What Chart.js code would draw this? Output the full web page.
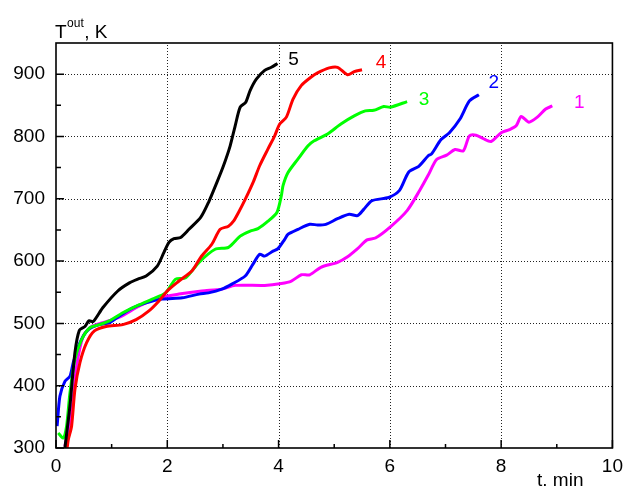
<!DOCTYPE html>
<html>
<head>
<meta charset="utf-8">
<script src="https://cdn.jsdelivr.net/npm/chart.js@4.4.1/dist/chart.umd.min.js"></script>
<style>
  html, body { margin: 0; padding: 0; background: #fff; }
  #wrap { width: 630px; height: 486px; }
</style>
</head>
<body>
<div id="wrap"><canvas id="tempChart"></canvas></div>
<script>
// outlet temperature vs time (t in min, T in K)
const time1 = [0.16, 0.28, 0.37, 0.49, 0.64, 0.84, 1.14, 1.50, 1.85, 2.21, 2.62, 2.98, 3.22, 3.75, 4.05, 4.23, 4.41, 4.56, 4.76, 5.06, 5.24, 5.42, 5.59, 5.74, 6.01, 6.31, 6.54, 6.69, 6.84, 7.02, 7.17, 7.32, 7.43, 7.55, 7.67, 7.82, 8.00, 8.15, 8.27, 8.36, 8.50, 8.65, 8.80, 8.92];
const temp1 = [303, 356, 431, 480, 495, 501, 510, 528, 541, 547, 552, 555, 561, 561, 564, 568, 578, 578, 590, 598, 607, 620, 634, 637, 655, 681, 714, 738, 763, 770, 779, 777, 801, 802, 797, 792, 806, 811, 817, 832, 823, 831, 844, 849];

const time2 = [0.02, 0.07, 0.16, 0.25, 0.31, 0.43, 0.58, 0.78, 0.96, 1.14, 1.38, 1.62, 1.91, 2.27, 2.57, 2.74, 2.98, 3.16, 3.40, 3.54, 3.66, 3.75, 3.90, 3.99, 4.11, 4.17, 4.35, 4.56, 4.70, 4.85, 5.06, 5.27, 5.42, 5.53, 5.68, 5.98, 6.17, 6.34, 6.52, 6.69, 6.75, 6.92, 7.07, 7.26, 7.43, 7.60];
const temp2 = [335, 383, 407, 415, 437, 469, 490, 498, 501, 512, 525, 533, 539, 541, 547, 549, 555, 563, 576, 595, 611, 608, 616, 620, 635, 643, 651, 659, 658, 659, 668, 675, 673, 683, 697, 702, 713, 743, 752, 769, 772, 795, 806, 828, 857, 867];

const time3 = [0.04, 0.13, 0.19, 0.25, 0.34, 0.46, 0.61, 0.78, 0.96, 1.20, 1.50, 1.73, 1.97, 2.15, 2.33, 2.57, 2.86, 3.10, 3.31, 3.49, 3.63, 3.81, 3.97, 4.05, 4.08, 4.17, 4.35, 4.53, 4.64, 4.88, 5.12, 5.36, 5.56, 5.71, 5.89, 6.01, 6.31];
const temp3 = [324, 316, 335, 388, 442, 474, 493, 498, 504, 517, 530, 539, 549, 571, 573, 598, 619, 622, 640, 648, 652, 664, 678, 705, 721, 742, 764, 785, 793, 804, 820, 833, 841, 842, 848, 847, 856];

const time4 = [0.20, 0.22, 0.28, 0.34, 0.43, 0.55, 0.69, 0.90, 1.20, 1.44, 1.67, 1.85, 2.01, 2.21, 2.45, 2.60, 2.80, 2.95, 3.10, 3.19, 3.28, 3.40, 3.55, 3.66, 3.81, 3.93, 4.02, 4.14, 4.26, 4.41, 4.58, 4.70, 4.91, 5.06, 5.24, 5.36, 5.50];
const temp4 = [300, 313, 335, 394, 437, 469, 488, 495, 498, 506, 520, 536, 553, 568, 585, 606, 627, 651, 656, 664, 678, 699, 728, 753, 780, 801, 820, 831, 860, 882, 895, 902, 910, 911, 899, 904, 907];

const time5 = [0.16, 0.25, 0.34, 0.42, 0.52, 0.59, 0.67, 0.84, 1.11, 1.32, 1.47, 1.62, 1.82, 1.94, 2.03, 2.12, 2.24, 2.39, 2.60, 2.74, 2.89, 3.01, 3.13, 3.22, 3.31, 3.41, 3.49, 3.60, 3.75, 3.87, 3.98];
const temp5 = [300, 367, 453, 489, 495, 504, 503, 525, 552, 565, 571, 576, 592, 614, 630, 636, 638, 651, 670, 694, 726, 753, 785, 817, 847, 855, 874, 892, 906, 911, 917];

// first entry is drawn on top
const curveNames = ["5", "4", "3", "2", "1"];
const curveTimes = [time5, time4, time3, time2, time1];
const curveTemps = [temp5, temp4, temp3, temp2, temp1];
const curveColors = ["#000000", "#ff0000", "#00ff00", "#0000ff", "#ff00ff"];
// where the number sits relative to the end of its curve (px)
const labelShift = [[16, -4], [19, -7], [17, -2], [15, -12], [27, -3]];

const FONT = "'Liberation Sans', Arial, sans-serif";

const datasets = curveNames.map((name, i) => ({
    label: name,
    data: curveTimes[i].map((t, j) => ({x: t, y: curveTemps[i][j]})),
    borderColor: curveColors[i],
    borderWidth: 3,
    pointRadius: 0,
    tension: 0.25,
    fill: false
}));

const decorPlugin = {
    id: "decor",
    beforeDatasetsDraw(chart) {
        // dotted grid at the major ticks
        const ctx = chart.ctx;
        const a = chart.chartArea;
        const xs = chart.scales.x, ys = chart.scales.y;
        ctx.save();
        ctx.strokeStyle = "#222";
        ctx.lineWidth = 1;
        ctx.setLineDash([1, 2]);
        ctx.beginPath();
        xs.ticks.forEach(t => {
            const px = Math.round(xs.getPixelForValue(t.value)) + 0.5;
            if (px > a.left + 2 && px < a.right - 2) {
                ctx.moveTo(px, a.bottom); ctx.lineTo(px, a.top);
            }
        });
        ys.ticks.forEach(t => {
            const py = Math.round(ys.getPixelForValue(t.value)) + 0.5;
            if (py > a.top + 2 && py < a.bottom - 2) {
                ctx.moveTo(a.left, py); ctx.lineTo(a.right, py);
            }
        });
        ctx.stroke();
        ctx.restore();
    },
    afterDraw(chart) {
        const ctx = chart.ctx;
        const a = chart.chartArea;
        const xs = chart.scales.x, ys = chart.scales.y;
        ctx.save();

        // inward ticks, major and minor
        ctx.strokeStyle = "#000";
        ctx.lineWidth = 1.5;
        ctx.beginPath();
        const xt = xs.ticks.map(t => t.value);
        xt.forEach((v, k) => {
            const px = xs.getPixelForValue(v);
            ctx.moveTo(px, a.bottom); ctx.lineTo(px, a.bottom - 8);
            if (k < xt.length - 1) {
                const mx = xs.getPixelForValue((v + xt[k + 1]) / 2);
                ctx.moveTo(mx, a.bottom); ctx.lineTo(mx, a.bottom - 4);
            }
        });
        const yt = ys.ticks.map(t => t.value);
        yt.forEach((v, k) => {
            const py = ys.getPixelForValue(v);
            ctx.moveTo(a.left, py); ctx.lineTo(a.left + 8, py);
            if (k < yt.length - 1) {
                const my = ys.getPixelForValue((v + yt[k + 1]) / 2);
                ctx.moveTo(a.left, my); ctx.lineTo(a.left + 5, my);
            }
        });
        ctx.stroke();

        // frame
        ctx.lineWidth = 1.6;
        ctx.strokeRect(a.left, a.top, a.right - a.left, a.bottom - a.top);

        // axis titles
        ctx.fillStyle = "#000";
        ctx.textBaseline = "alphabetic";
        ctx.textAlign = "left";
        ctx.font = "19px " + FONT;
        ctx.fillText("T", 55, 38);
        let w = ctx.measureText("T").width;
        ctx.font = "12px " + FONT;
        ctx.fillText("out", 55 + w + 0.5, 27);
        let w2 = ctx.measureText("out").width;
        ctx.font = "19px " + FONT;
        ctx.fillText(", K", 55 + w + w2 + 1, 38);
        ctx.fillText("t. min", 537, 486);

        // curve numbers at the curve ends
        chart.data.datasets.forEach((ds, i) => {
            const pts = chart.getDatasetMeta(i).data;
            const last = pts[pts.length - 1];
            ctx.fillStyle = curveColors[i];
            ctx.textAlign = "center";
            ctx.textBaseline = "middle";
            ctx.fillText(ds.label, last.x + labelShift[i][0], last.y + labelShift[i][1]);
        });
        ctx.restore();
    }
};

new Chart("tempChart", {
    type: "line",
    data: {datasets: datasets},
    options: {
        responsive: true,
        maintainAspectRatio: false,
        animation: false,
        layout: {padding: {top: 43, right: 13, left: 0, bottom: 0}},
        plugins: {
            legend: {display: false},
            tooltip: {enabled: false}
        },
        scales: {
            x: {
                type: "linear",
                min: 0,
                max: 10,
                afterFit: s => { s.height = 38; },
                ticks: {stepSize: 2, padding: 7, color: "#000", font: {family: FONT, size: 19}, maxRotation: 0},
                grid: {display: false, drawTicks: false},
                border: {display: false}
            },
            y: {
                type: "linear",
                min: 300,
                max: 950,
                afterFit: s => { s.width = 56; },
                ticks: {stepSize: 100, includeBounds: false, padding: 11, color: "#000", font: {family: FONT, size: 19}},
                grid: {display: false, drawTicks: false},
                border: {display: false}
            }
        }
    },
    plugins: [decorPlugin]
});
</script>
</body>
</html>
